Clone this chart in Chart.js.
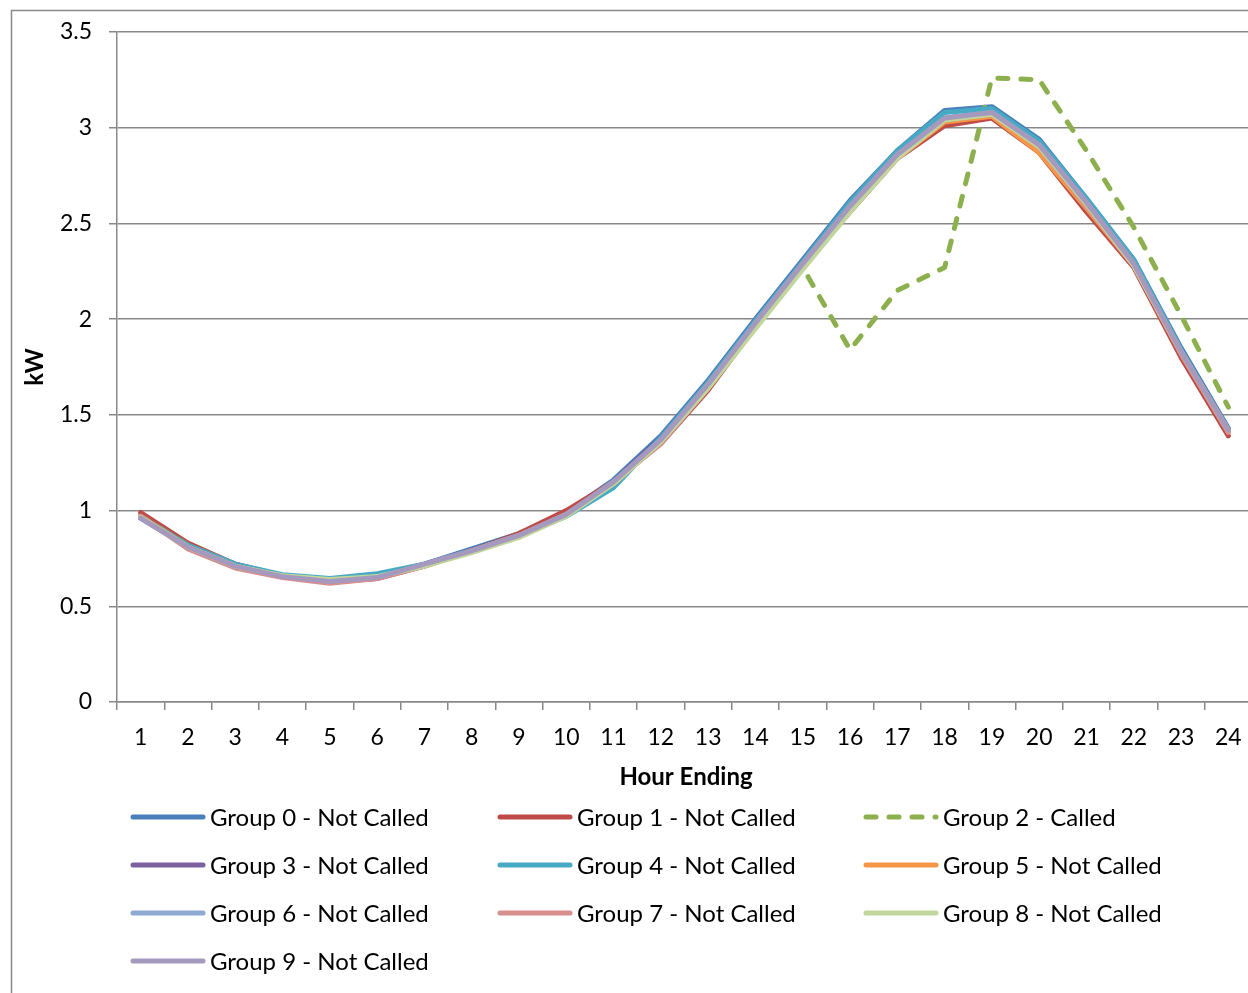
<!DOCTYPE html>
<html>
<head>
<meta charset="utf-8">
<script src="https://cdn.jsdelivr.net/npm/chart.js@4/dist/chart.umd.min.js"></script>
<style>
  html, body { margin: 0; padding: 0; background: #fff; }
  #wrap { width: 1248px; height: 993px; overflow: hidden; position: relative; }
</style>
</head>
<body>
<div id="wrap"><canvas id="chart" width="1262" height="993"></canvas></div>
<script>
const hours = ['1','2','3','4','5','6','7','8','9','10','11','12','13','14','15','16','17','18','19','20','21','22','23','24'];

const group0 = [0.97,0.82,0.72,0.66,0.64,0.66,0.72,0.80,0.88,0.99,1.16,1.39,1.68,2.00,2.31,2.62,2.88,3.09,3.11,2.94,2.63,2.31,1.85,1.43];
const group1 = [0.99,0.83,0.72,0.66,0.625,0.645,0.71,0.79,0.88,1.00,1.15,1.35,1.63,1.96,2.27,2.56,2.84,3.01,3.05,2.87,2.56,2.27,1.80,1.39];
const group2 = [0.97,0.82,0.715,0.66,0.635,0.65,0.715,0.79,0.87,0.98,1.14,1.36,1.64,1.96,2.27,1.84,2.15,2.27,3.26,3.25,2.88,2.48,2.02,1.54];
const group3 = [0.96,0.81,0.71,0.655,0.63,0.65,0.72,0.79,0.87,0.98,1.15,1.38,1.66,1.98,2.30,2.60,2.86,3.05,3.08,2.92,2.61,2.29,1.84,1.42];
const group4 = [0.97,0.82,0.72,0.665,0.645,0.67,0.72,0.79,0.87,0.97,1.12,1.38,1.67,1.99,2.30,2.61,2.88,3.08,3.10,2.93,2.63,2.31,1.84,1.42];
const group5 = [0.97,0.81,0.71,0.655,0.63,0.65,0.71,0.79,0.87,0.98,1.14,1.36,1.64,1.96,2.27,2.57,2.84,3.03,3.06,2.87,2.58,2.28,1.82,1.41];
const group6 = [0.96,0.81,0.71,0.655,0.63,0.65,0.715,0.79,0.87,0.975,1.15,1.37,1.66,1.98,2.29,2.59,2.86,3.05,3.08,2.91,2.61,2.29,1.83,1.42];
const group7 = [0.97,0.80,0.70,0.65,0.62,0.645,0.71,0.79,0.87,0.98,1.15,1.35,1.64,1.97,2.28,2.58,2.85,3.04,3.07,2.90,2.59,2.28,1.82,1.41];
const group8 = [0.965,0.81,0.71,0.66,0.64,0.655,0.71,0.78,0.86,0.97,1.14,1.36,1.64,1.95,2.26,2.56,2.84,3.04,3.07,2.90,2.60,2.28,1.83,1.42];
const group9 = [0.96,0.81,0.71,0.655,0.63,0.65,0.72,0.79,0.87,0.98,1.15,1.37,1.66,1.98,2.29,2.59,2.86,3.05,3.08,2.91,2.61,2.29,1.83,1.42];

const seriesNames = ['Group 0 - Not Called','Group 1 - Not Called','Group 2 - Called','Group 3 - Not Called','Group 4 - Not Called',
                     'Group 5 - Not Called','Group 6 - Not Called','Group 7 - Not Called','Group 8 - Not Called','Group 9 - Not Called'];
const seriesData = [group0, group1, group2, group3, group4, group5, group6, group7, group8, group9];
const seriesColors = ['#4a7ebb','#be4b48','#8db04e','#7d60a0','#46aac5','#f79646','#8eaad2','#d68f8d','#c0d69a','#a699be'];

const FONT = 'Lato, "Open Sans", sans-serif';
const GRID = '#888888';

const datasets = seriesNames.map((name, i) => ({
    label: name,
    data: seriesData[i],
    borderColor: seriesColors[i],
    backgroundColor: seriesColors[i],
    borderWidth: 5,
    borderDash: i === 2 ? [10, 13] : [],
    borderCapStyle: 'round',
    borderJoinStyle: 'round',
    pointRadius: 0,
    tension: 0,
    fill: false,
    order: 9 - i
}));

// frame, axis titles and the 3-column legend
const decorations = {
    id: 'decorations',
    beforeDraw(chart) {
        const ctx = chart.ctx;
        ctx.save();
        ctx.fillStyle = '#fff';
        ctx.fillRect(0, 0, chart.width, chart.height);
        ctx.strokeStyle = GRID;
        ctx.lineWidth = 1.5;
        ctx.strokeRect(11.5, 10.5, 1300, 1100);
        ctx.restore();
    },
    afterDraw(chart) {
        const ctx = chart.ctx;
        const area = chart.chartArea;
        ctx.save();
        ctx.fillStyle = '#000';
        ctx.font = 'bold 24px ' + FONT;
        ctx.textAlign = 'center';
        ctx.textBaseline = 'middle';
        ctx.fillText('Hour Ending', 686, 777);
        ctx.translate(35, (area.top + area.bottom) / 2);
        ctx.rotate(-Math.PI / 2);
        ctx.fillText('kW', 0, 0);
        ctx.restore();

        const colX = [133, 500, 866];
        const rowY = [817, 865, 913, 961];
        ctx.save();
        ctx.font = '24px ' + FONT;
        ctx.textAlign = 'left';
        ctx.textBaseline = 'middle';
        chart.data.datasets.forEach((ds, i) => {
            const x = colX[i % 3];
            const y = rowY[Math.floor(i / 3)];
            ctx.strokeStyle = ds.borderColor;
            ctx.lineWidth = 5;
            ctx.lineCap = 'round';
            ctx.setLineDash(ds.borderDash.length ? [10, 13] : []);
            ctx.beginPath();
            ctx.moveTo(x, y);
            ctx.lineTo(x + 70, y);
            ctx.stroke();
            ctx.setLineDash([]);
            ctx.fillStyle = '#000';
            ctx.fillText(ds.label, x + 77, y + 1);
        });
        ctx.restore();
    }
};

new Chart(document.getElementById('chart'), {
    type: 'line',
    data: { labels: hours, datasets },
    options: {
        responsive: false,
        animation: false,
        devicePixelRatio: 1,
        layout: { padding: { top: 32, right: 10, bottom: 0, left: 0 } },
        plugins: { legend: { display: false }, tooltip: { enabled: false } },
        scales: {
            x: {
                offset: true,
                afterFit(scale) { scale.height = 291; },
                grid: { offset: true, drawOnChartArea: false, drawTicks: true, tickLength: 8, color: GRID, lineWidth: 1.5 },
                border: { color: GRID, width: 1.5 },
                ticks: { color: '#000', font: { family: FONT, size: 23 }, padding: 14, maxRotation: 0, autoSkip: false }
            },
            y: {
                min: 0,
                max: 3.5,
                afterFit(scale) { scale.width = 117; },
                grid: { color: GRID, lineWidth: 1.5, tickLength: 8 },
                border: { color: GRID, width: 1.5 },
                ticks: {
                    stepSize: 0.5, color: '#000', font: { family: FONT, size: 23 }, padding: 17,
                    callback: v => String(v)
                }
            }
        }
    },
    plugins: [decorations]
});
</script>
</body>
</html>
